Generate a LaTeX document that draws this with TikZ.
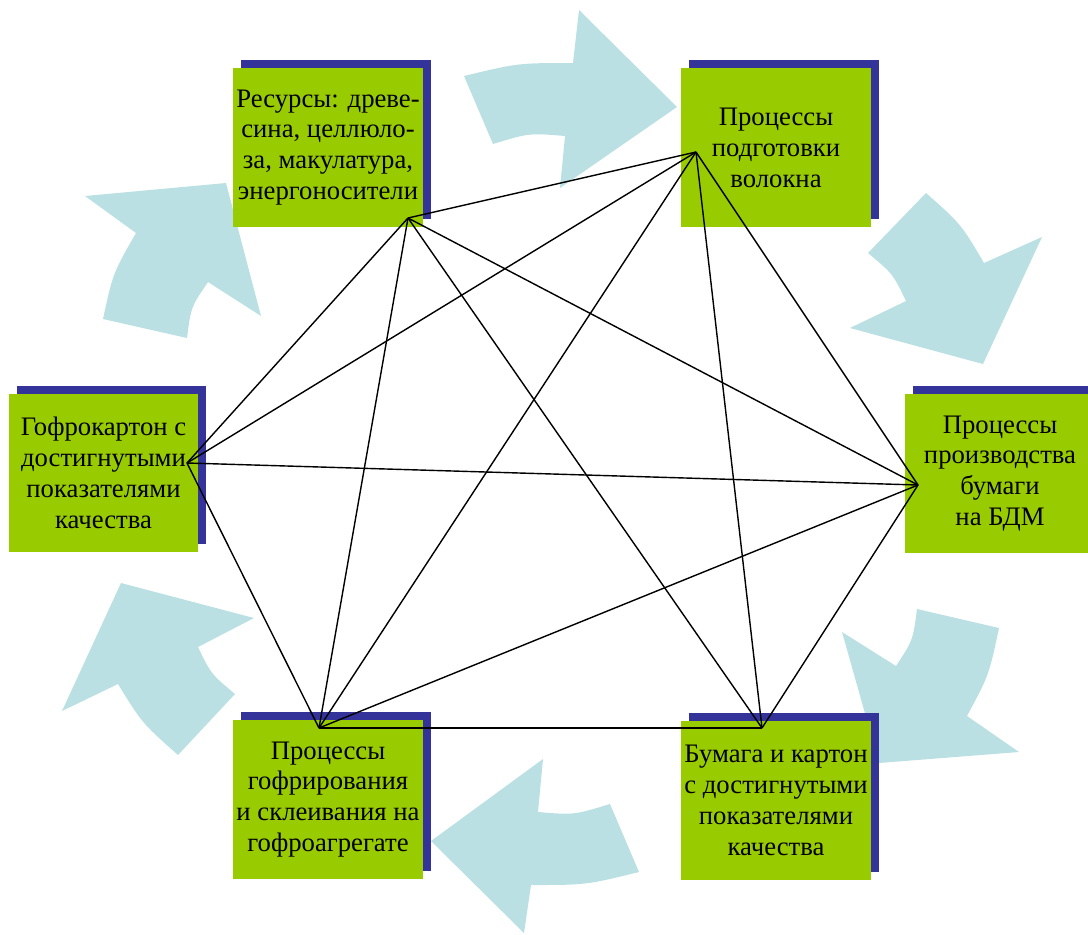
\documentclass[tikz,border=0pt]{standalone}
\usepackage{fontspec}
\setmainfont{Liberation Serif}
\usetikzlibrary{shadows}
\definecolor{boxgreen}{HTML}{99CC00}
\definecolor{boxblue}{HTML}{333399}
\definecolor{flow}{HTML}{BBE0E3}
\tikzset{
  stage/.style={fill=boxgreen, minimum width=3.8cm, minimum height=3.18cm,
    align=center, inner sep=0pt, font=\fontsize{15.2}{17.6}\selectfont,
    drop shadow={shadow xshift=0.16cm, shadow yshift=0.16cm, fill=boxblue, opacity=1}},
  link/.style={line width=0.8pt},
  turn/.style={fill=flow, draw=none}
}
\begin{document}
\begin{tikzpicture}[x=0.02cm, y=-0.02cm]
\useasboundingbox (0,0) rectangle (1088,934);
% curved arrows going round clockwise
\fill[turn] (464,76) .. controls (518,63) .. (573,63) -- (579,10) -- (677,107) -- (560,188)
  -- (565,136) .. controls (529,133) .. (493,144) -- cycle;
\fill[turn] (926,193) .. controls (961,224) .. (984,263) -- (1042,237) -- (983,364) -- (850,328)
  -- (906,301) .. controls (893,274) .. (868,253) -- cycle;
\fill[turn] (999,628) .. controls (989,675) .. (967,716) -- (1019,752) -- (879,763) -- (842,632)
  -- (896,666) .. controls (913,640) .. (917,609) -- cycle;
\fill[turn] (639,872) .. controls (586,885) .. (531,885) -- (524,933) -- (431,841) -- (543,759)
  -- (538,812) .. controls (574,815) .. (610,804) -- cycle;
\fill[turn] (178,755) .. controls (142,723) .. (118,684) -- (62,711) -- (121,583) -- (254,618)
  -- (198,647) .. controls (211,674) .. (235,694) -- cycle;
\fill[turn] (103,319) .. controls (113,273) .. (136,233) -- (85,196) -- (226,183) -- (261,316)
  -- (208,282) .. controls (191,307) .. (187,338) -- cycle;

% stages
\node[stage] (res) at (328,147.5) {Ресурсы: древе-\\сина, целлюло-\\за, макулатура,\\энергоносители};
\node[stage] (fib) at (776,147.5) {Процессы\\подготовки\\волокна};
\node[stage] (corr) at (103.5,473) {Гофрокартон с\\достигнутыми\\показателями\\качества};
\node[stage] (pm) at (1000,473.5) {Процессы\\производства\\бумаги\\на БДМ};
\node[stage] (glue) at (328,799.5) {Процессы\\гофрирования\\и склеивания на\\гофроагрегате};
\node[stage] (paper) at (776,800) {Бумага и картон\\с достигнутыми\\показателями\\качества};

% hubs where the links meet
\coordinate (pRes) at (408,218);
\coordinate (pFib) at (696,152);
\coordinate (pCorr) at (187,463);
\coordinate (pPm) at (918,485);
\coordinate (pGlue) at (319,728);
\coordinate (pPaper) at (762,728);

\foreach \a/\b in {pRes/pFib, pRes/pCorr, pRes/pPm, pRes/pGlue, pRes/pPaper,
    pFib/pCorr, pFib/pPm, pFib/pGlue, pFib/pPaper, pCorr/pPm, pCorr/pGlue,
    pPm/pGlue, pPm/pPaper, pGlue/pPaper}
  \draw[link] (\a) -- (\b);
\end{tikzpicture}
\end{document}
